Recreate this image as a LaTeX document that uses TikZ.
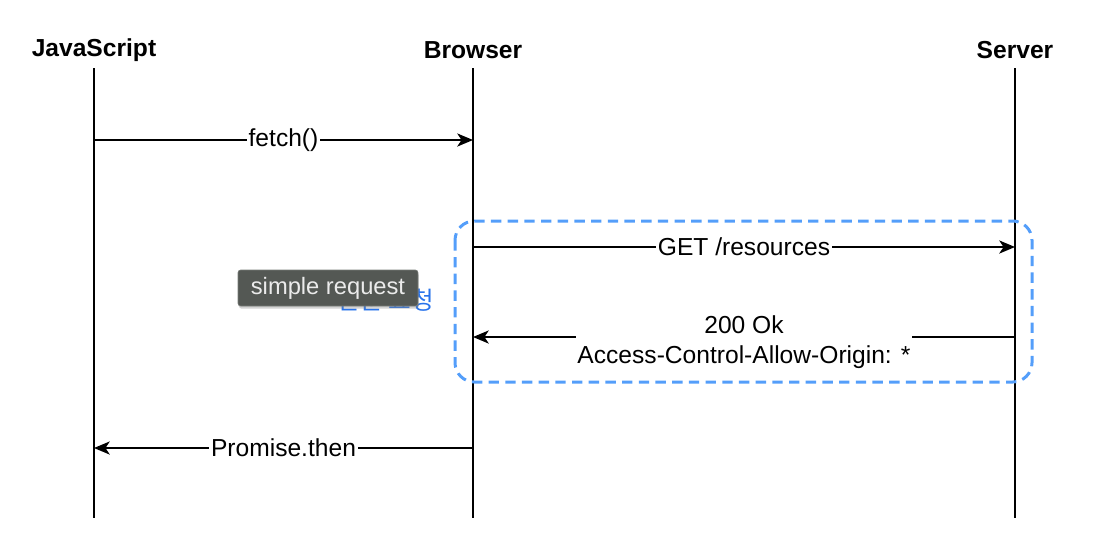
\documentclass[tikz,border=0pt]{standalone}
\usepackage[rgb]{xcolor}
\usepackage{fontspec}
\setmainfont{Liberation Sans}
\newfontfamily\krfont{Noto Sans CJK KR}
\usetikzlibrary{arrows.meta,shadows}

\definecolor{boxblue}{RGB}{84,158,250}
\definecolor{tipgrey}{RGB}{84,88,84}
\definecolor{tipline}{RGB}{120,124,120}
\definecolor{korblue}{RGB}{40,115,235}

\begin{document}
\begin{tikzpicture}[x=0.02cm, y=-0.02cm,
  head/.style={font=\fontsize{14}{16}\selectfont\bfseries},
  msg/.style={font=\fontsize{14}{17}\selectfont, fill=white, inner sep=1pt, align=center},
  life/.style={line width=0.85pt},
  call/.style={line width=0.85pt, -{Stealth[length=9pt,width=7.5pt,inset=2.5pt]}},
  tip/.style={fill=tipgrey, draw=tipline, text=white!92!black, font=\fontsize{13.5}{15}\selectfont,
    minimum width=3.6cm, minimum height=0.72cm, inner sep=0pt, rounded corners=1.5pt,
    drop shadow={shadow xshift=0.5pt, shadow yshift=-1.5pt, opacity=0.35}}]

\useasboundingbox (0,0) rectangle (1098,556);

% Lifeline heads
\path
(94,50)   node[head] (js) {JavaScript}
(473,50)  node[head] (browser) {Browser}
(1015,50) node[head] (server) {Server};

\coordinate (js-top) at (94,68);
\coordinate (js-bot) at (94,518);
\coordinate (br-top) at (473,68);
\coordinate (br-bot) at (473,518);
\coordinate (sv-top) at (1015,68);
\coordinate (sv-bot) at (1015,518);

\draw[life] (js-top) -- (js-bot);
\draw[life] (br-top) -- (br-bot);
\draw[life] (sv-top) -- (sv-bot);

% Simple request area
\draw[boxblue, line width=1.7pt, dash pattern=on 5.9pt off 3.6pt, rounded corners=11pt]
  (455,221) rectangle (1032,382);

% Messages
\coordinate (js-fetch) at (94,140);
\coordinate (br-fetch) at (473,140);
\coordinate (br-get) at (473,247);
\coordinate (sv-get) at (1015,247);
\coordinate (sv-ok) at (1015,337);
\coordinate (br-ok) at (473,337);
\coordinate (br-then) at (473,448);
\coordinate (js-then) at (94,448);

\draw[call] (js-fetch) -- node[msg] (fetch) {fetch()} (br-fetch);
\draw[call] (br-get) -- node[msg] (get) {GET /resources} (sv-get);
\draw[call] (sv-ok) -- node[msg, yshift=-3pt] (ok) {200 Ok\\Access-Control-Allow-Origin: *} (br-ok);
\draw[call] (br-then) -- node[msg] (then) {Promise.then} (js-then);

% Tooltip over the label
\node[anchor=east, text=korblue, font=\krfont\fontsize{14}{16}\selectfont, inner sep=0pt] (kor) at (434,300) {단순 요청};
\node[tip] (hint) at (328,288) {simple request};

\end{tikzpicture}
\end{document}
